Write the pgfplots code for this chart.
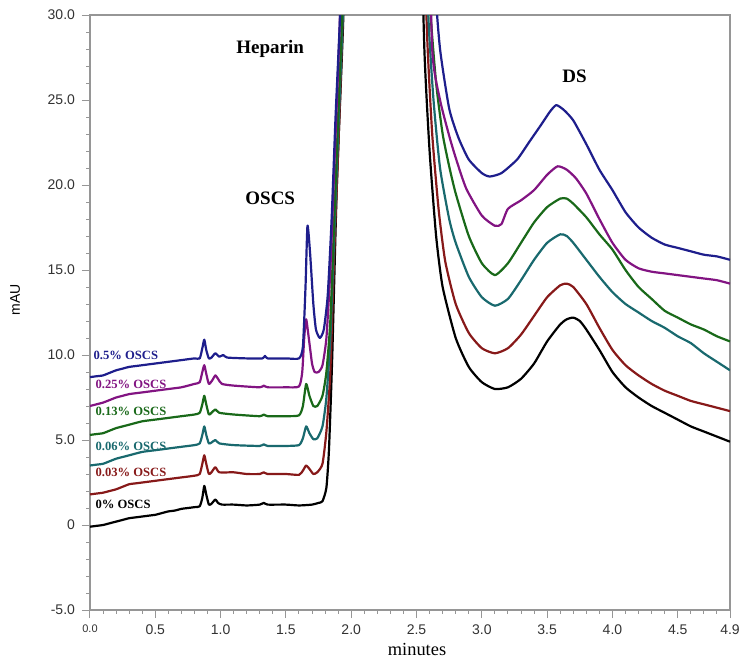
\documentclass[border=0pt]{standalone}
\usepackage{fontspec}
\setmainfont{Liberation Serif}
\setsansfont{Liberation Sans}
\usepackage{pgfplots}
\pgfplotsset{compat=1.18}

\definecolor{cBlue}{RGB}{30,30,140}
\definecolor{cPurple}{RGB}{130,20,130}
\definecolor{cGreen}{RGB}{25,105,25}
\definecolor{cTeal}{RGB}{25,105,110}
\definecolor{cRed}{RGB}{135,25,25}
\definecolor{axisgray}{RGB}{150,150,150}
\definecolor{ticktext}{RGB}{50,50,50}

\begin{document}
\begin{tikzpicture}
\useasboundingbox (-45pt,-25pt) rectangle (325pt,305pt);
\begin{axis}[
  scale only axis,
  width=320pt, height=297.5pt,
  xmin=0, xmax=4.9, ymin=-5, ymax=30,
  xtick={0,0.5,1,1.5,2,2.5,3,3.5,4,4.5,4.9},
  xticklabels={{\fontsize{5.5}{6}\selectfont 0.0},0.5,1.0,1.5,2.0,2.5,3.0,3.5,4.0,4.5,4.9},
  minor xtick={0.1,0.2,0.3,0.4,0.6,0.7,0.8,0.9,1.1,1.2,1.3,1.4,1.6,1.7,1.8,1.9,2.1,2.2,2.3,2.4,2.6,2.7,2.8,2.9,3.1,3.2,3.3,3.4,3.6,3.7,3.8,3.9,4.1,4.2,4.3,4.4,4.6,4.7,4.8},
  ytick={-5,0,5,10,15,20,25,30},
  yticklabels={-5.0,0,5.0,10.0,15.0,20.0,25.0,30.0},
  minor ytick={-4,-3,-2,-1,1,2,3,4,6,7,8,9,11,12,13,14,16,17,18,19,21,22,23,24,26,27,28,29},
  xtick pos=bottom, ytick pos=left,
  tick align=outside,
  major tick length=4pt, minor tick length=1.8pt,
  axis line style={axisgray, line width=0.6pt},
  every tick/.style={axisgray, line width=0.5pt},
  tick label style={font=\sffamily\fontsize{7}{8}\selectfont, text=ticktext},
  /pgf/number format/assume math mode=true,
  xlabel={minutes},
  xlabel style={font=\fontsize{9.2}{10}\selectfont, at={(axis description cs:0.511,-0.067)}, anchor=center},
  ylabel={mAU},
  ylabel style={font=\sffamily\fontsize{7}{8}\selectfont, at={(axis description cs:-0.117,0.521)}, anchor=center},
  clip=true,
  every axis plot/.append style={line width=1.1pt, line join=round, smooth, tension=0.35},
]
% 0% OSCS
\addplot[black] coordinates {
(0,-0.1)(0.05,-0.05)(0.1,0.0)(0.15,0.1)(0.2,0.2)(0.25,0.3)(0.3,0.4)(0.35,0.45)(0.4,0.5)(0.45,0.55)(0.5,0.6)(0.55,0.7)(0.6,0.8)(0.65,0.85)(0.7,0.95)(0.75,1.0)(0.8,1.05)(0.84,1.1)
(0.86,1.6)(0.875,2.3)(0.89,1.8)(0.91,1.2)(0.93,1.25)(0.96,1.5)(0.98,1.3)(1.01,1.2)(1.1,1.2)(1.2,1.15)(1.3,1.2)(1.33,1.3)(1.36,1.2)(1.5,1.2)(1.6,1.15)(1.7,1.2)(1.75,1.3)(1.78,1.4)(1.81,2.2)(1.83,4.5)(1.855,10)(1.89,20)(1.94,30)(1.97,40)
(2.2,90)(2.45,60)(2.52,40)(2.56,28)(2.6,22)(2.65,17)(2.7,14)(2.8,11)(2.9,9.3)(3.0,8.4)(3.1,8.0)(3.2,8.1)(3.3,8.6)(3.4,9.5)(3.5,10.8)(3.6,11.8)(3.65,12.1)(3.7,12.2)(3.75,12.0)(3.8,11.5)(3.9,10.3)(4.0,9.0)(4.1,8.1)(4.2,7.5)(4.3,7.0)(4.4,6.6)(4.5,6.2)(4.6,5.8)(4.7,5.5)(4.8,5.2)(4.9,4.9)
};
% 0.03% OSCS
\addplot[cRed] coordinates {
(0,1.8)(0.05,1.85)(0.1,1.9)(0.15,2.0)(0.2,2.1)(0.25,2.25)(0.3,2.4)(0.35,2.45)(0.4,2.5)(0.5,2.6)(0.6,2.7)(0.7,2.8)(0.8,2.9)(0.84,3.0)
(0.86,3.6)(0.875,4.1)(0.89,3.6)(0.91,3.0)(0.93,3.1)(0.96,3.4)(0.99,3.1)(1.1,3.1)(1.2,3.0)(1.3,3.0)(1.33,3.1)(1.36,3.0)(1.5,3.0)(1.6,2.95)(1.63,3.2)(1.655,3.5)(1.68,3.3)(1.71,3.0)(1.74,3.1)(1.78,3.6)(1.81,5.5)(1.84,9)(1.87,16)(1.9,22)(1.94,31)(1.97,41)
(2.2,90)(2.45,60)(2.54,40)(2.58,29)(2.62,23)(2.67,18.5)(2.72,15.5)(2.8,13)(2.9,11.3)(3.0,10.4)(3.1,10.1)(3.2,10.4)(3.3,11.2)(3.4,12.3)(3.5,13.4)(3.6,14.1)(3.65,14.2)(3.7,14.0)(3.8,13.0)(3.9,11.6)(4.0,10.3)(4.1,9.4)(4.2,8.8)(4.3,8.3)(4.4,7.9)(4.5,7.6)(4.6,7.3)(4.7,7.1)(4.8,6.9)(4.9,6.7)
};
% 0.06% OSCS
\addplot[cTeal] coordinates {
(0,3.5)(0.05,3.55)(0.1,3.6)(0.15,3.75)(0.2,3.9)(0.25,4.0)(0.3,4.1)(0.4,4.3)(0.5,4.4)(0.6,4.5)(0.7,4.6)(0.8,4.7)(0.84,4.8)
(0.86,5.3)(0.875,5.8)(0.89,5.3)(0.91,4.8)(0.93,4.85)(0.96,5.0)(0.99,4.8)(1.1,4.7)(1.3,4.65)(1.33,4.75)(1.36,4.65)(1.5,4.65)(1.6,4.7)(1.63,5.1)(1.655,5.8)(1.68,5.4)(1.71,5.05)(1.74,5.1)(1.78,5.8)(1.81,7.5)(1.84,11)(1.87,17)(1.9,23)(1.94,31)(1.97,41)
(2.2,90)(2.45,60)(2.55,40)(2.59,30)(2.63,25)(2.68,21)(2.75,18)(2.8,16.6)(2.9,14.6)(3.0,13.4)(3.1,12.9)(3.2,13.3)(3.3,14.4)(3.4,15.6)(3.5,16.6)(3.6,17.1)(3.65,17.0)(3.7,16.6)(3.8,15.6)(3.9,14.6)(4.0,13.7)(4.1,13.0)(4.2,12.5)(4.3,12.0)(4.4,11.6)(4.5,11.1)(4.6,10.7)(4.7,10.1)(4.8,9.6)(4.9,9.1)
};
% 0.13% OSCS
\addplot[cGreen] coordinates {
(0,5.3)(0.05,5.35)(0.1,5.4)(0.15,5.55)(0.2,5.7)(0.25,5.8)(0.3,5.9)(0.4,6.1)(0.5,6.2)(0.6,6.3)(0.7,6.4)(0.8,6.5)(0.84,6.6)
(0.86,7.1)(0.875,7.6)(0.89,7.1)(0.91,6.5)(0.93,6.6)(0.96,6.8)(0.99,6.6)(1.1,6.5)(1.3,6.4)(1.33,6.5)(1.36,6.4)(1.5,6.4)(1.6,6.45)(1.63,7.0)(1.655,8.3)(1.68,7.6)(1.71,7.0)(1.74,7.0)(1.78,7.6)(1.81,9)(1.84,12)(1.87,18)(1.9,24)(1.94,32)(1.97,42)
(2.2,90)(2.45,60)(2.56,40)(2.6,31)(2.65,26)(2.7,23)(2.75,21.1)(2.8,19.5)(2.9,17.0)(3.0,15.4)(3.1,14.7)(3.2,15.4)(3.3,16.6)(3.4,17.8)(3.5,18.7)(3.6,19.2)(3.65,19.2)(3.7,18.9)(3.8,18.1)(3.9,17.1)(4.0,16.2)(4.1,15.0)(4.2,14.0)(4.3,13.3)(4.4,12.6)(4.5,12.2)(4.6,11.8)(4.7,11.5)(4.8,11.1)(4.9,10.8)
};
% 0.25% OSCS
\addplot[cPurple] coordinates {
(0,7.0)(0.05,7.1)(0.1,7.2)(0.15,7.35)(0.2,7.5)(0.25,7.6)(0.3,7.7)(0.4,7.8)(0.5,7.9)(0.6,8.0)(0.7,8.1)(0.8,8.3)(0.84,8.4)
(0.86,9.0)(0.875,9.4)(0.89,8.9)(0.91,8.3)(0.935,8.5)(0.96,8.8)(0.98,8.6)(1.01,8.3)(1.1,8.2)(1.3,8.1)(1.33,8.2)(1.36,8.1)(1.5,8.1)(1.6,8.15)(1.625,9.0)(1.64,11.0)(1.655,12.1)(1.675,11.0)(1.7,9.5)(1.72,9.0)(1.75,9.0)(1.78,9.4)(1.81,11)(1.84,15)(1.87,21)(1.91,29)(1.95,40)
(2.2,90)(2.45,60)(2.58,40)(2.62,28)(2.68,25)(2.75,22.9)(2.8,21.6)(2.88,19.8)(3.0,18.2)(3.1,17.6)(3.15,17.7)(3.2,18.6)(3.3,19.1)(3.4,19.7)(3.5,20.6)(3.58,21.1)(3.65,20.9)(3.72,20.4)(3.8,19.5)(3.9,18.0)(4.0,16.6)(4.1,15.6)(4.2,15.1)(4.3,14.9)(4.4,14.8)(4.5,14.7)(4.6,14.6)(4.7,14.5)(4.8,14.4)(4.9,14.2)
};
% 0.5% OSCS
\addplot[cBlue] coordinates {
(0,8.7)(0.05,8.75)(0.1,8.8)(0.15,8.95)(0.2,9.1)(0.25,9.2)(0.3,9.3)(0.4,9.4)(0.5,9.5)(0.6,9.6)(0.7,9.7)(0.8,9.8)(0.84,9.8)
(0.86,10.4)(0.875,10.9)(0.89,10.3)(0.91,9.8)(0.93,9.85)(0.96,10.1)(0.99,9.9)(1.02,10.0)(1.05,9.85)(1.2,9.8)(1.32,9.8)(1.34,9.95)(1.36,9.8)(1.5,9.8)(1.6,9.8)(1.63,10.5)(1.65,14)(1.665,17.6)(1.685,16)(1.71,13)(1.73,11.5)(1.76,11.0)(1.79,11.5)(1.82,13.5)(1.85,18)(1.88,24)(1.92,31)(1.95,40)
(2.2,90)(2.5,60)(2.6,40)(2.64,32)(2.68,28)(2.75,24.5)(2.82,22.8)(2.9,21.5)(3.0,20.7)(3.06,20.5)(3.15,20.7)(3.27,21.5)(3.36,22.5)(3.45,23.5)(3.52,24.3)(3.57,24.7)(3.63,24.4)(3.7,23.8)(3.8,22.4)(3.9,20.9)(4.0,19.7)(4.1,18.4)(4.2,17.5)(4.3,16.9)(4.4,16.5)(4.5,16.3)(4.6,16.1)(4.7,15.9)(4.8,15.8)(4.9,15.6)
};
% curve labels
\begin{scope}[every node/.style={anchor=west, inner sep=0pt, font=\bfseries\fontsize{6.3}{7}\selectfont}]
\node[text=cBlue]   at (axis cs:0.025,10.0) {0.5\% OSCS};
\node[text=cPurple] at (axis cs:0.04,8.3) {0.25\% OSCS};
\node[text=cGreen]  at (axis cs:0.04,6.7) {0.13\% OSCS};
\node[text=cTeal]   at (axis cs:0.04,4.6) {0.06\% OSCS};
\node[text=cRed]    at (axis cs:0.04,3.1) {0.03\% OSCS};
\node[text=black]   at (axis cs:0.04,1.2) {0\% OSCS};
\end{scope}
% peak annotations
\begin{scope}[every node/.style={anchor=center, inner sep=0pt, font=\bfseries\fontsize{9.5}{10}\selectfont}]
\node at (axis cs:1.38,28.0) {Heparin};
\node at (axis cs:1.38,19.2) {OSCS};
\node at (axis cs:3.71,26.4) {DS};
\end{scope}
\end{axis}
\end{tikzpicture}
\end{document}
